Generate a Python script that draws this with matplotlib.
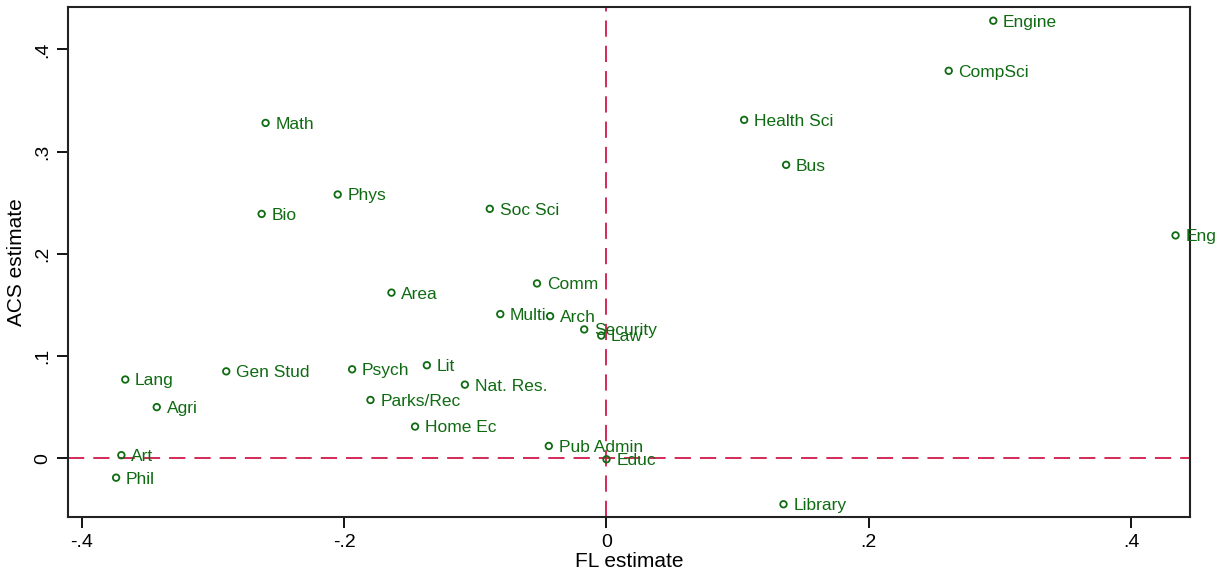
import matplotlib.pyplot as plt

plt.rcParams['font.family'] = ['Liberation Sans', 'DejaVu Sans']

majors = ['Engine', 'CompSci', 'Eng', 'Health Sci', 'Bus', 'Math', 'Phys', 'Bio',
          'Soc Sci', 'Area', 'Comm', 'Multi', 'Arch', 'Security', 'Law', 'Lit',
          'Psych', 'Gen Stud', 'Nat. Res.', 'Parks/Rec', 'Home Ec', 'Pub Admin',
          'Educ', 'Lang', 'Agri', 'Art', 'Phil', 'Library']
fl_est = [0.295, 0.261, 0.434, 0.105, 0.137, -0.260, -0.205, -0.263,
          -0.089, -0.164, -0.053, -0.081, -0.043, -0.017, -0.004, -0.137,
          -0.194, -0.290, -0.108, -0.180, -0.146, -0.044,
          0.000, -0.367, -0.343, -0.370, -0.374, 0.135]
acs_est = [0.428, 0.379, 0.218, 0.331, 0.287, 0.328, 0.258, 0.239,
           0.244, 0.162, 0.171, 0.141, 0.139, 0.126, 0.120, 0.091,
           0.087, 0.085, 0.072, 0.057, 0.031, 0.012,
           -0.001, 0.077, 0.050, 0.003, -0.019, -0.045]

green = '#0f6b12'
red = '#d0184a'

fig = plt.figure(figsize=(12.25, 5.75), dpi=100)
ax = fig.add_axes([0.0555, 0.101, 0.9159, 0.8868])

# reference lines at zero
ax.axhline(0, color=red, lw=1.3, ls=(0, (9, 5)), zorder=1)
ax.axvline(0, color=red, lw=1.3, ls=(0, (9, 5)), zorder=1)

ax.scatter(fl_est, acs_est, s=22, facecolors='none', edgecolors=green,
           linewidths=1.3, zorder=3)
for name, x, y in zip(majors, fl_est, acs_est):
    ax.annotate(name, (x, y), xytext=(7, -1), textcoords='offset points',
                va='center', ha='left', color=green, fontsize=12.5,
                annotation_clip=False, zorder=4)

ax.set_xlim(-0.4107, 0.445)
ax.set_ylim(-0.0574, 0.4414)
ax.set_xticks([-0.4, -0.2, 0, 0.2, 0.4])
ax.set_xticklabels(['-.4', '-.2', '0', '.2', '.4'])
ax.set_yticks([0, 0.1, 0.2, 0.3, 0.4])
ax.set_yticklabels(['0', '.1', '.2', '.3', '.4'], rotation=90, va='center')
ax.tick_params(direction='out', length=8, width=1.3, labelsize=14)
ax.tick_params(axis='x', pad=4)
ax.tick_params(axis='y', pad=4)

for sp in ax.spines.values():
    sp.set_linewidth(1.5)
    sp.set_color('#222222')

ax.set_xlabel('FL estimate', fontsize=15, labelpad=1)
ax.set_ylabel('ACS estimate', fontsize=15, labelpad=6)

fig.savefig('out.png', dpi=100)
